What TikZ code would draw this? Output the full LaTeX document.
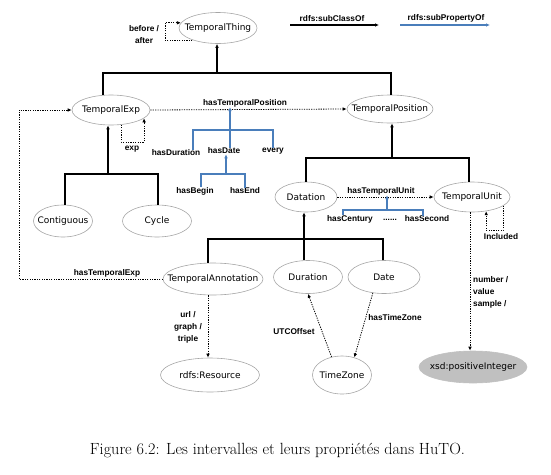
\documentclass[tikz,border=0pt]{standalone}
\usepackage{fontspec}
\usetikzlibrary{shapes.geometric,arrows.meta,calc}
\newfontfamily\nodefont{DejaVu Sans}
\newfontfamily\labfont{Liberation Sans}
\definecolor{pblue}{HTML}{4A7EBB}
\definecolor{egray}{HTML}{A6A6A6}
\definecolor{xfill}{HTML}{C0C0C0}
\newcommand{\ctext}[1]{\makebox[0pt]{#1}}
\tikzset{
  cls/.style={ellipse, draw=egray, line width=0.6pt, inner sep=0pt,
    font=\nodefont\fontsize{9}{10}\selectfont},
  lab/.style={inner sep=0pt, font=\labfont\bfseries\fontsize{8.3}{12}\selectfont},
  tipa/.style={-{Latex[length=4pt,width=3.6pt]}},
  subc/.style={line width=1.4pt, black},
  subca/.style={subc, tipa},
  subp/.style={line width=1.3pt, pblue},
  subpa/.style={subp, tipa},
  prop/.style={line width=0.8pt, black, dash pattern=on 1.2pt off 1.2pt, tipa},
}
\begin{document}
\begin{tikzpicture}[x=1pt,y=-1pt]
\useasboundingbox (0,0) rectangle (551,474);
% classes
\node[cls, minimum width=78pt, minimum height=31pt] (tt) at (218,28) {\ctext{TemporalThing}};
\node[cls, minimum width=78pt, minimum height=30pt] (te) at (111,110) {\ctext{TemporalExp}};
\node[cls, minimum width=86pt, minimum height=28pt] (tpos) at (390,109) {\ctext{TemporalPosition}};
\node[cls, minimum width=59pt, minimum height=32pt] (cont) at (63,221) {\ctext{Contiguous}};
\node[cls, minimum width=69pt, minimum height=32pt] (cyc) at (157,221) {\ctext{Cycle}};
\node[cls, minimum width=62pt, minimum height=30pt] (dat) at (306,197) {\ctext{Datation}};
\node[cls, minimum width=76pt, minimum height=30pt] (tu) at (472,197) {\ctext{TemporalUnit}};
\node[cls, minimum width=100pt, minimum height=32pt] (ta) at (213,279) {\ctext{TemporalAnnotation}};
\node[cls, minimum width=69pt, minimum height=33pt] (dur) at (308,277) {\ctext{Duration}};
\node[cls, minimum width=72pt, minimum height=33pt] (date) at (384,277) {\ctext{Date}};
\node[cls, minimum width=99pt, minimum height=34pt] (res) at (210,375) {\ctext{rdfs:Resource}};
\node[cls, minimum width=59pt, minimum height=38pt] (tz) at (342,375) {\ctext{TimeZone}};
\node[cls, draw=xfill, fill=xfill, minimum width=108pt, minimum height=32pt] (xsd) at (473,367) {\ctext{xsd:positiveInteger}};

% legend
\node[lab] (lsc) at (332,19) {rdfs:subClassOf};
\coordinate (lsa) at (290,25);
\coordinate (lsb) at (379,25);
\draw[subca] (lsa) -- (lsb);
\node[lab] (lsp) at (446,18) {rdfs:subPropertyOf};
\coordinate (lpa) at (400,25);
\coordinate (lpb) at (490,25);
\draw[subpa] (lpa) -- (lpb);

% subclass trees
\coordinate (j1) at (217,73);
\draw[subc] ([xshift=-8pt]te.north) |- (j1) -| ([xshift=1pt]tpos.north);
\draw[subca] (j1) -- (j1 |- tt.south);
\coordinate (j2) at (108,174);
\draw[subc] ([xshift=2pt]cont.north) |- (j2) -| ([xshift=1pt]cyc.north);
\draw[subca] (j2) -- (j2 |- te.south);
\coordinate (j3) at (392,158);
\draw[subc] (dat.north) |- (j3) -| ([xshift=-3pt]tu.north);
\draw[subca] (j3) -- (j3 |- tpos.south);
\coordinate (j4) at (304,239);
\draw[subc] ([xshift=-5pt]ta.north) |- (j4) -| ([xshift=-1pt]date.north);
\draw[subc] (j4) -- (j4 |- dur.north);
\draw[subca] (j4) -- (j4 |- dat.south);

% before / after
\coordinate (bal) at (165,32);
\draw[prop] (tt.205) -| (bal) |- (tt.172);
\node[lab, align=center] (lba) at (144,35) {before /\\after};

% exp
\coordinate (expc) at (132,142);
\draw[prop] (te.305) |- (expc) -| (te.346);
\node[lab] (lexp) at (132,149) {exp};

% hasTemporalPosition
\draw[prop] (te.east) -- (tpos.west);
\node[lab] (htp) at (245,103) {hasTemporalPosition};
\node[lab] (hdu) at (176,153) {hasDuration};
\node[lab] (hda) at (224,151) {hasDate};
\node[lab] (hev) at (273,151) {every};
\node[lab] (hbe) at (195,191) {hasBegin};
\node[lab] (hen) at (245,191) {hasEnd};
\coordinate (jp) at (230,130);
\draw[subp] ([xshift=17pt]hdu.north) |- (jp) -| (hev.north);
\draw[subpa] (jp |- hda.north) -- (jp |- htp.south);
\coordinate (jd) at (226,174);
\draw[subp] ([xshift=6pt]hbe.north) |- (jd) -| (hen.north);
\draw[subpa] (jd) -- (jd |- hda.south);

% hasTemporalExp
\coordinate (htec) at (19,200);
\draw[prop] (ta.west) -| (htec) |- (te.west);
\node[lab] (lhte) at (107,273) {hasTemporalExp};

% hasTemporalUnit
\draw[prop] (dat.east) -- (tu.west);
\node[lab] (htu) at (381,191) {hasTemporalUnit};
\node[lab] (hce) at (350,219) {hasCentury};
\node[lab] (hdots) at (390,220) {......};
\node[lab] (hse) at (427,219) {hasSecond};
\coordinate (ju) at (387,210);
\draw[subp] ([xshift=-7pt]hce.north) |- (ju) -| ([xshift=-4pt]hse.north);
\draw[subpa] (ju) -- (ju |- htu.south);

% Included
\coordinate (incl) at (495,230);
\draw[prop] (tu.345) |- (incl) -| (tu.315);
\node[lab] (linc) at (501,237) {Included};

% TemporalUnit -> xsd
\coordinate (tus) at ([xshift=-2pt]tu.south);
\draw[prop] (tus) -- (tus |- xsd.north);
\node[lab, align=left, anchor=west] (lnum) at (473,292) {number /\\value\\sample /};

% TemporalAnnotation -> rdfs:Resource
\coordinate (tas) at ([xshift=-5pt]ta.south);
\draw[prop] (tas) -- (tas |- res.north);
\node[lab, align=center] (lurl) at (188,327) {url /\\graph /\\triple};

% TimeZone
\draw[prop] (tz.120) -- (dur.south);
\node[lab] (lutc) at (294,332) {UTCOffset};
\draw[prop] (date.235) -- (tz.55);
\node[lab] (lhtz) at (395,318) {hasTimeZone};

% caption
\node[font=\fontsize{16.2}{18}\selectfont, inner sep=0pt] (cap) at (277.5,450) {Figure 6.2: Les intervalles et leurs propriétés dans HuTO.};
\end{tikzpicture}
\end{document}
